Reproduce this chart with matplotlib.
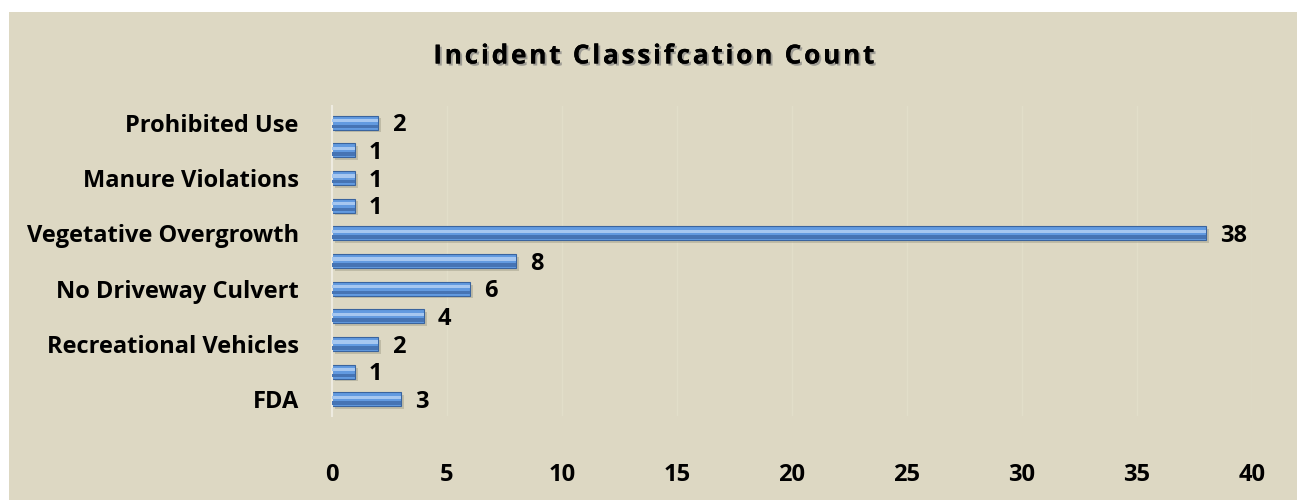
import numpy as np
from matplotlib import pyplot as plt
from matplotlib import patheffects as pe
from matplotlib.patches import Rectangle

# data, bottom to top as in the chart
categories = ["FDA", "", "Recreational Vehicles", "", "No Driveway Culvert", "",
              "Vegetative Overgrowth", "", "Manure Violations", "", "Prohibited Use"]
counts = [3, 1, 2, 4, 6, 8, 38, 1, 1, 1, 2]
xticks = [0, 5, 10, 15, 20, 25, 30, 35, 40]
title = "Incident Classifcation Count"

bg = "#DDD8C3"
font = ["Open Sans", "DejaVu Sans"]

fig = plt.figure(figsize=(13.1, 5.0), dpi=100)
fig.patch.set_facecolor("white")
fig.patches.append(Rectangle((9 / 1310, 0), 1288 / 1310, 488 / 500,
                             transform=fig.transFigure, facecolor=bg,
                             edgecolor="none", zorder=-10))

ax = fig.add_axes([332 / 1310, 1 - 416 / 500, 920 / 1310, 310 / 500])
ax.set_facecolor("none")

y = np.arange(len(counts))
h = 0.5

# shadow, body, dark lower band, highlight
ax.barh(y - 0.1, counts, height=h, left=0.12, color="#9c9884", alpha=0.45, zorder=1)
ax.barh(y, counts, height=h, color="#629ae0", edgecolor="#3a649e", linewidth=0.8, zorder=2)
ax.barh(y - h * 0.27, counts, height=h * 0.26, color="#4674b4", linewidth=0, zorder=3)
ax.barh(y + h * 0.15, counts, height=h * 0.24, color="#a6c7f0", linewidth=0, zorder=3)

for yi, c in zip(y, counts):
    ax.text(c + 0.6, yi - 0.1, str(c), va="center", ha="left", fontsize=17,
            fontweight="bold", family=font)

ax.set_xlim(0, 40)
ax.set_ylim(-0.6, 10.6)
ax.set_xticks(xticks)
ax.set_xticklabels([str(t) for t in xticks], fontsize=17, fontweight="bold", family=font)
ax.set_yticks(y)
ax.set_yticklabels(categories, fontsize=17, fontweight="bold", family=font)
ax.tick_params(length=0, pad=24, axis="y")
ax.tick_params(length=0, pad=34, axis="x")
ax.grid(axis="x", color="#e2dec9", linewidth=1, zorder=0)
ax.set_axisbelow(True)
for s in ["top", "right", "bottom"]:
    ax.spines[s].set_visible(False)
ax.spines["left"].set_color("#eeebe0")
ax.spines["left"].set_linewidth(1.5)

# title with widened letter spacing
fig.text(653 / 1310, 1 - 56 / 500, "\u200a".join(title),
         ha="center", va="center", fontsize=19, fontweight="bold", family=font,
         path_effects=[pe.withSimplePatchShadow(offset=(1.5, -1.5), shadow_rgbFace="#777777", alpha=0.6), pe.Normal()])

fig.savefig("out.png", dpi=100, facecolor=fig.get_facecolor())
